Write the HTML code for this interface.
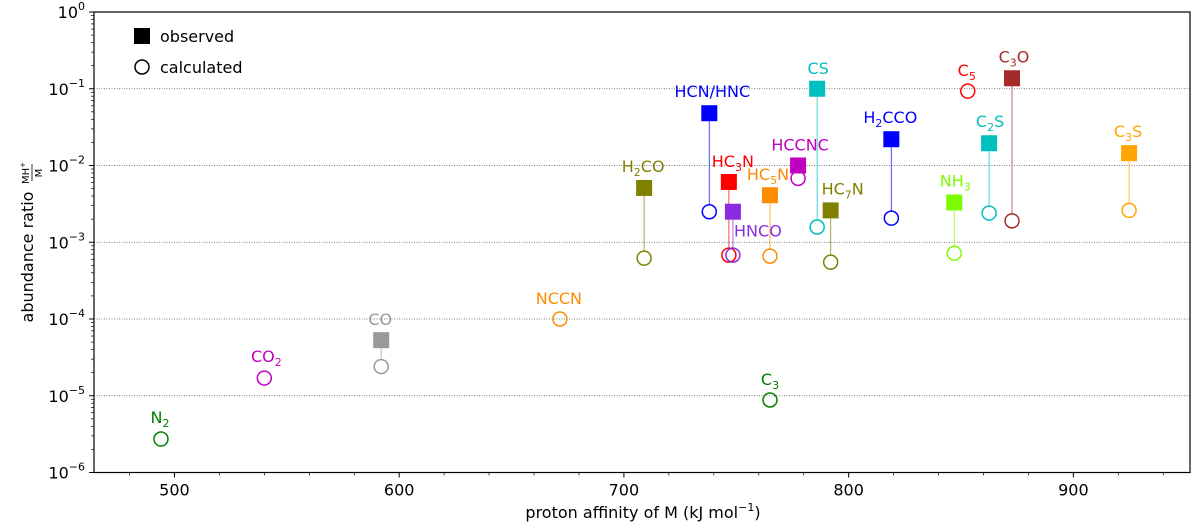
<!DOCTYPE html>
<html><head><meta charset="utf-8"><style>
body{margin:0;background:#fff;}
svg{display:block;font-family:"DejaVu Sans","Liberation Sans",sans-serif;}
</style></head><body>
<svg id="chart" width="1200" height="524"></svg>
<script>
const names=["N2","CO2","CO","NCCN","C3","H2CO","HCN/HNC","HC3N","HNCO","HC5N","HCCNC","CS","HC7N","H2CCO","NH3","C5","C2S","C3O","C3S"];
const protonAffinity=[494,540,592,671.5,765,709,738,746.7,748.5,765,777.5,786,792,819,847,853,862.5,872.7,924.8];
const observed=[null,null,5.3e-5,null,null,5.1e-3,0.048,6.1e-3,2.5e-3,4.1e-3,1.0e-2,0.1,2.6e-3,0.022,3.3e-3,null,0.0195,0.137,0.0145];
const calculated=[2.73e-6,1.7e-5,2.4e-5,1.0e-4,8.8e-6,6.2e-4,2.5e-3,6.8e-4,6.8e-4,6.6e-4,6.8e-3,1.58e-3,5.5e-4,2.06e-3,7.2e-4,0.093,2.4e-3,1.9e-3,2.6e-3];
const xTicks=[500,600,700,800,900];
const yTickExps=[-6,-5,-4,-3,-2,-1,0];
const colors=["#008000","#bf00bf","#999999","#ff8c00","#008000","#808000","#0000ff","#ff0000","#8a2be2","#ff8c00","#bf00bf","#00bfbf","#808000","#0000ff","#7cfc00","#ff0000","#00bfbf","#a52a2a","#ffa500"];
const labelDx=[-1,2,-1,-1,0,-1,3,4,25,-2,2,1,12,-1,1,-1,1,2,-1];
const labelDy=[-21,-21,-20,-20,-20,-21,-21,-20,20,-20,-20,-20,-21,-21,-21,-20,-21,-21,-21];

function subLabel(n){
  if(n==="HCN/HNC"||n==="HNCO"||n==="HCCNC"||n==="NCCN"||n==="CO"||n==="CS")return n;
  return n.replace(/(\d)(.*)$/,(m,d,rest)=>"<tspan dy='4' font-size='11'>"+d+"</tspan>"+(rest?"<tspan dy='-4'>"+rest+"</tspan>":""));
}

const L=94,R=1190,T=12,B=472.5;
const xmin=464.2,xmax=951.9;
const X=v=>L+(v-xmin)/(xmax-xmin)*(R-L);
const Y=v=>B-(Math.log10(v)+6)/6*(B-T);
const svg=document.getElementById('chart');
const NS="http://www.w3.org/2000/svg";
function mk(tag,attrs,parent){const e=document.createElementNS(NS,tag);for(const k in attrs)e.setAttribute(k,attrs[k]);(parent||svg).appendChild(e);return e;}

yTickExps.forEach(ex=>{
  if(ex===-6||ex===0)return;
  const g=mk('line',{x1:L,x2:R,y1:Y(Math.pow(10,ex)),y2:Y(Math.pow(10,ex)),stroke:'#555','stroke-width':0.8,'stroke-dasharray':'1,1.5'});
  
  
});
yTickExps.forEach(ex=>{
  const y=Y(Math.pow(10,ex));
  mk('line',{x1:L-5,x2:L,y1:y,y2:y,stroke:'#000','stroke-width':1});
  const t=mk('text',{x:L-9,y:y+6,'text-anchor':'end','font-size':16});
  t.innerHTML="10<tspan dy='-8' font-size='11'>"+(ex===0?"0":"\u2212"+(-ex))+"</tspan>";
  
  
  if(ex<0)for(let m=2;m<=9;m++){const yy=Y(m*Math.pow(10,ex));mk('line',{x1:L-3,x2:L,y1:yy,y2:yy,stroke:'#000','stroke-width':0.7});}
});
for(let v=480;v<=940;v+=20){const x=X(v);const major=v%100===0;mk('line',{x1:x,x2:x,y1:B,y2:B+(major?5:3),stroke:'#000','stroke-width':major?1:0.7});}
xTicks.forEach(v=>{const t=mk('text',{x:X(v),y:B+23,'text-anchor':'middle','font-size':16});t.textContent=v;
  
  });
const fr=mk('rect',{x:L,y:T,width:R-L,height:B-T,fill:'none',stroke:'#000','stroke-width':1.2});



names.forEach((n,i)=>{
  const x=X(protonAffinity[i]),c=colors[i];
  const g=mk('g',{});
  
  
  const yc=Y(calculated[i]);
  let yl=yc;
  if(observed[i]!==null){
    const yo=Y(observed[i]);yl=yo;
    mk('line',{x1:x,x2:x,y1:yo,y2:yc-7,stroke:c,'stroke-width':1,'stroke-opacity':0.7},g);
    const s=mk('rect',{x:x-8,y:yo-8,width:16,height:16,fill:c},g);
    
    
  }
  const ci=mk('circle',{cx:x,cy:yc,r:7,fill:'none',stroke:c,'stroke-width':1.5},g);
  
  
  const t=mk('text',{x:x+labelDx[i],y:yl+labelDy[i]+5,'text-anchor':'middle','font-size':16,fill:c},g);
  t.innerHTML=subLabel(n);
  
  
});

const lg=mk('g',{});


mk('rect',{x:134,y:28,width:16,height:16,fill:'#000'},lg);
let t1=mk('text',{x:160,y:42,'font-size':16},lg);t1.textContent='observed';
mk('circle',{cx:142,cy:67,r:7,fill:'none',stroke:'#000','stroke-width':1.5},lg);
let t2=mk('text',{x:160,y:73,'font-size':16},lg);t2.textContent='calculated';

const yt=mk('g',{transform:'translate(33,245) rotate(-90)'});


const ytt=mk('text',{x:-12,y:0,'text-anchor':'middle','font-size':16},yt);ytt.textContent='abundance ratio';
const f1=mk('text',{x:72,y:-4,'text-anchor':'middle','font-size':10},yt);f1.innerHTML="MH<tspan dy='-4' font-size='7'>+</tspan>";
mk('line',{x1:64,x2:81,y1:-1,y2:-1,stroke:'#000','stroke-width':0.8},yt);
const f2=mk('text',{x:72,y:9,'text-anchor':'middle','font-size':10},yt);f2.textContent='M';
const xt=mk('text',{x:643,y:518,'text-anchor':'middle','font-size':16});
xt.innerHTML="proton affinity of M (kJ mol<tspan dy='-7' font-size='11'>\u22121</tspan><tspan dy='7'>)</tspan>";


</script>
</body></html>
